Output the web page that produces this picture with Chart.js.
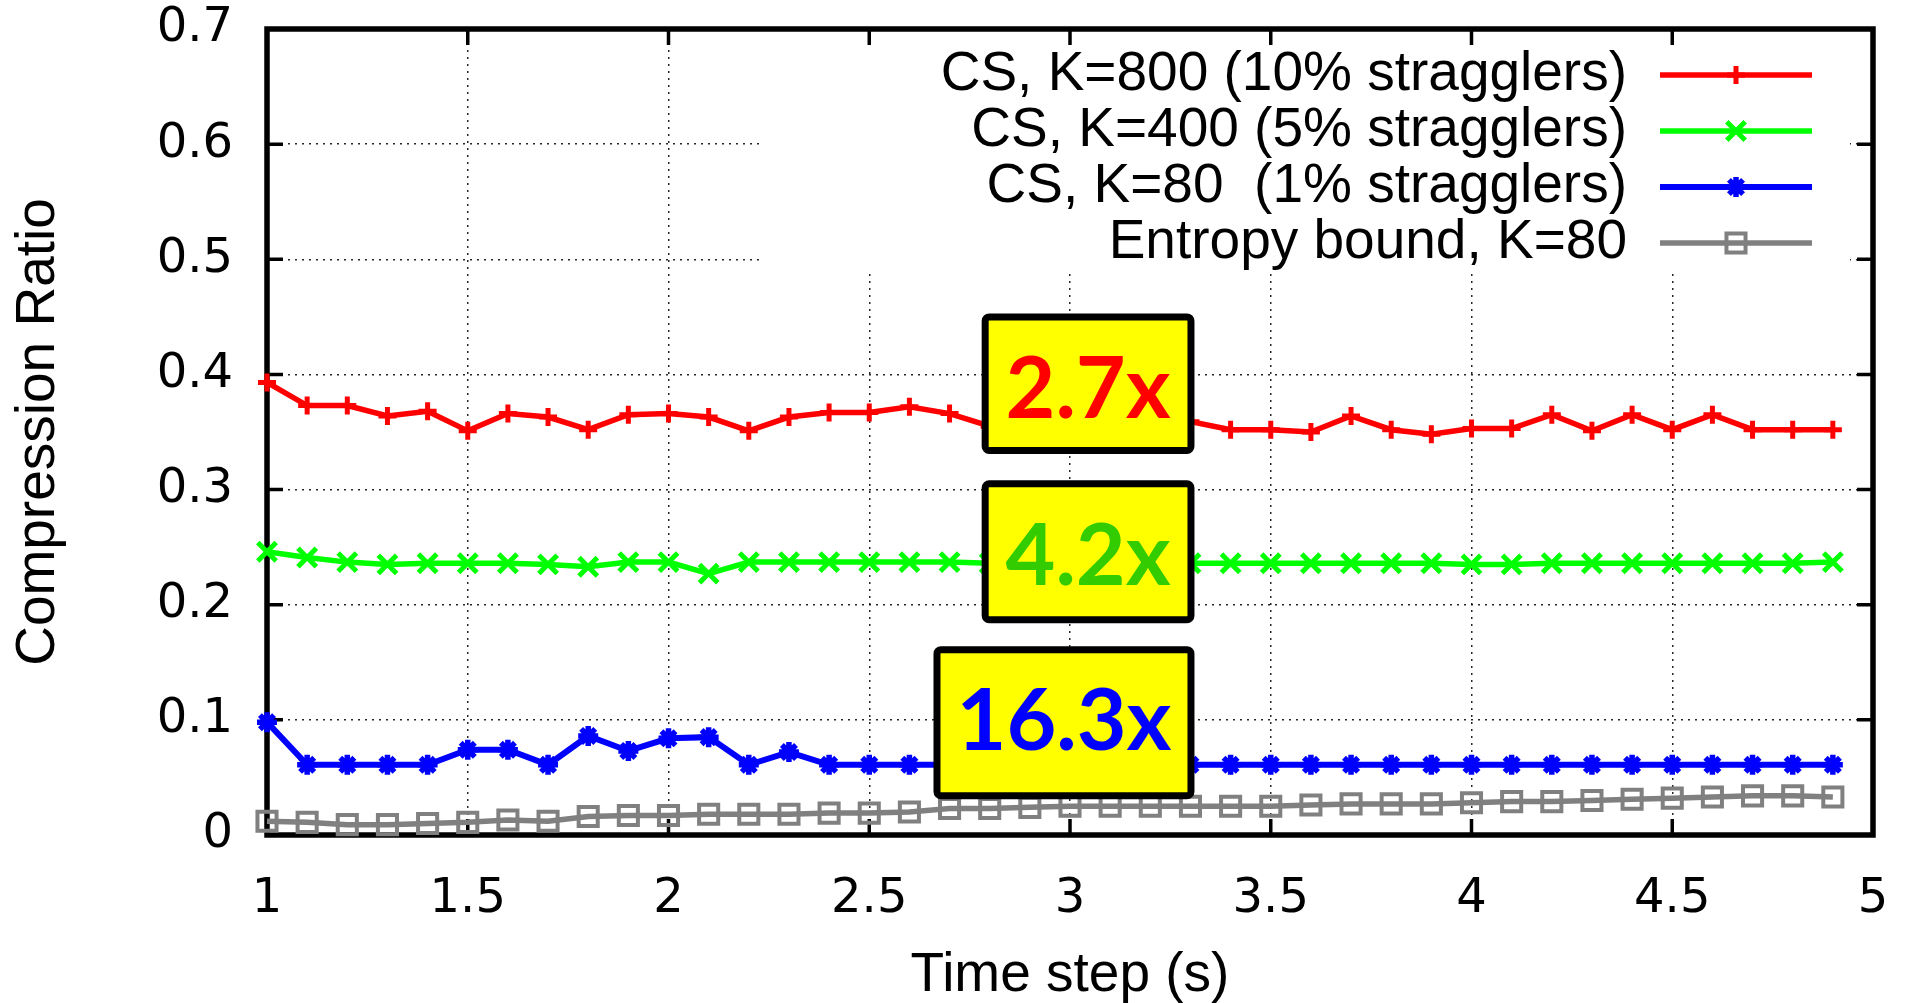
<!DOCTYPE html>
<html>
<head>
<meta charset="utf-8">
<title>Compression Ratio vs Time step</title>
<script src="https://cdn.jsdelivr.net/npm/chart.js@4.4.1/dist/chart.umd.min.js"></script>
<style>
  html, body { margin: 0; padding: 0; background: #fff; }
  #wrap { width: 1907px; height: 1003px; }
</style>
</head>
<body>
<div id="wrap"><canvas id="chart" width="1907" height="1003"></canvas></div>
<script>
// ---- data ----
const timeSteps = [1.0, 1.1, 1.2, 1.3, 1.4, 1.5, 1.6, 1.7, 1.8, 1.9,
                   2.0, 2.1, 2.2, 2.3, 2.4, 2.5, 2.6, 2.7, 2.8, 2.9,
                   3.0, 3.1, 3.2, 3.3, 3.4, 3.5, 3.6, 3.7, 3.8, 3.9,
                   4.0, 4.1, 4.2, 4.3, 4.4, 4.5, 4.6, 4.7, 4.8, 4.9];

const cs800 = [0.393, 0.373, 0.373, 0.364, 0.368, 0.351, 0.366, 0.363, 0.352, 0.365,
               0.366, 0.363, 0.351, 0.363, 0.367, 0.367, 0.372, 0.366, 0.355, 0.360,
               0.358, 0.362, 0.356, 0.359, 0.352, 0.352, 0.350, 0.364, 0.352, 0.348,
               0.353, 0.353, 0.365, 0.351, 0.365, 0.352, 0.365, 0.352, 0.352, 0.352];

const cs400 = [0.246, 0.241, 0.237, 0.235, 0.236, 0.236, 0.236, 0.235, 0.233, 0.237,
               0.237, 0.227, 0.237, 0.237, 0.237, 0.237, 0.237, 0.237, 0.236, 0.236,
               0.236, 0.236, 0.236, 0.236, 0.236, 0.236, 0.236, 0.236, 0.236, 0.236,
               0.235, 0.235, 0.236, 0.236, 0.236, 0.236, 0.236, 0.236, 0.236, 0.237];

const cs80 = [0.098, 0.061, 0.061, 0.061, 0.061, 0.074, 0.074, 0.061, 0.086, 0.073,
              0.084, 0.085, 0.061, 0.072, 0.061, 0.061, 0.061, 0.061, 0.061, 0.061,
              0.061, 0.061, 0.061, 0.061, 0.061, 0.061, 0.061, 0.061, 0.061, 0.061,
              0.061, 0.061, 0.061, 0.061, 0.061, 0.061, 0.061, 0.061, 0.061, 0.061];

const entropy80 = [0.012, 0.011, 0.009, 0.009, 0.010, 0.011, 0.013, 0.012, 0.016, 0.017,
                   0.017, 0.018, 0.018, 0.018, 0.019, 0.019, 0.020, 0.023, 0.023, 0.024,
                   0.025, 0.025, 0.025, 0.025, 0.025, 0.025, 0.026, 0.027, 0.027, 0.027,
                   0.028, 0.029, 0.029, 0.030, 0.031, 0.032, 0.033, 0.034, 0.034, 0.033];

const seriesLabels = ['CS, K=800 (10% stragglers)', 'CS, K=400 (5% stragglers)',
                      'CS, K=80  (1% stragglers)', 'Entropy bound, K=80'];

const xTickValues = [1, 1.5, 2, 2.5, 3, 3.5, 4, 4.5, 5];
const yTickValues = [0, 0.1, 0.2, 0.3, 0.4, 0.5, 0.6, 0.7];

// callout boxes: text and the data region each box covers
const gainLabels = ['2.7x', '4.2x', '16.3x'];
const gainRanges = [[2.78, 3.31, 0.331, 0.453],
                    [2.78, 3.31, 0.184, 0.308],
                    [2.66, 3.31, 0.031, 0.164]];
const gainAnchors = [[3.045, 0.386], [3.045, 0.241], [2.985, 0.098]];
const gainColors = ['#ff0000', '#33cc00', '#0000ff'];

// ---- styling ----
const TICK_FONT = { family: 'DejaVu Sans', size: 48 };
const TEXT_FONT = 'Liberation Sans';

const toPoints = ys => timeSteps.map((x, i) => ({ x: x, y: ys[i] }));

const datasets = [
    { label: seriesLabels[0], data: toPoints(cs800), borderColor: '#ff0000', pointStyle: 'cross', pointRadius: 9, pointBorderWidth: 5, borderWidth: 5.5 },
    { label: seriesLabels[1], data: toPoints(cs400), borderColor: '#00ff00', pointStyle: 'crossRot', pointRadius: 13, pointBorderWidth: 5, borderWidth: 5.5 },
    { label: seriesLabels[2], data: toPoints(cs80), borderColor: '#0000ff', pointStyle: 'star', pointRadius: 10, pointBorderWidth: 5.5, borderWidth: 6 },
    { label: seriesLabels[3], data: toPoints(entropy80), borderColor: '#808080', pointStyle: 'rect', pointRadius: 13.5, pointBorderWidth: 4, borderWidth: 5.5 }
].map(ds => Object.assign({
    pointBorderColor: ds.borderColor,
    pointBackgroundColor: 'rgba(0,0,0,0)',
    pointHoverRadius: ds.pointRadius,
    tension: 0,
    fill: false,
    clip: false
}, ds));

// plot frame and key layout (pixels)
const PLOT = { top: 29, right: 34 };
const KEY = { left: 760, right: 1850, bottom: 274, textRight: 1627, lineFrom: 1660, lineTo: 1812, rows: [75, 131, 187, 243] };

// gnuplot look: white key box, solid frame with inward ticks on all sides
const framePlugin = {
    id: 'gnuplotFrame',
    beforeDatasetsDraw(chart) {
        const { ctx, chartArea: a, scales } = chart;
        ctx.save();
        ctx.fillStyle = '#fff';
        ctx.fillRect(KEY.left, a.top, KEY.right - KEY.left, KEY.bottom - a.top);

        ctx.strokeStyle = '#000';
        ctx.lineWidth = 3.5;
        const tl = 16;
        ctx.beginPath();
        xTickValues.forEach(v => {
            const px = scales.x.getPixelForValue(v);
            ctx.moveTo(px, a.bottom); ctx.lineTo(px, a.bottom - tl);
            ctx.moveTo(px, a.top); ctx.lineTo(px, a.top + tl);
        });
        yTickValues.forEach(v => {
            const py = scales.y.getPixelForValue(v);
            ctx.moveTo(a.left, py); ctx.lineTo(a.left + tl, py);
            ctx.moveTo(a.right, py); ctx.lineTo(a.right - tl, py);
        });
        ctx.stroke();

        ctx.lineWidth = 5.5;
        ctx.strokeRect(a.left, a.top, a.right - a.left, a.bottom - a.top);
        ctx.restore();
    },
    afterDatasetsDraw(chart) {
        const { ctx, scales } = chart;
        ctx.save();

        // callout boxes
        gainLabels.forEach((txt, i) => {
            const [x0, x1, y0, y1] = gainRanges[i];
            const bw = 7;
            const l = scales.x.getPixelForValue(x0) + bw / 2;
            const r = scales.x.getPixelForValue(x1) - bw / 2;
            const t = scales.y.getPixelForValue(y1) + bw / 2;
            const b = scales.y.getPixelForValue(y0) - bw / 2;
            ctx.beginPath();
            ctx.roundRect(l, t, r - l, b - t, 4);
            ctx.fillStyle = '#ffff00';
            ctx.fill();
            ctx.lineWidth = bw;
            ctx.strokeStyle = '#000';
            ctx.stroke();

            ctx.fillStyle = gainColors[i];
            ctx.font = 'bold 86px Lato';
            ctx.textAlign = 'center';
            ctx.textBaseline = 'middle';
            ctx.fillText(txt, scales.x.getPixelForValue(gainAnchors[i][0]), scales.y.getPixelForValue(gainAnchors[i][1]));
        });

        // key entries
        chart.data.datasets.forEach((ds, i) => {
            const y = KEY.rows[i];
            ctx.fillStyle = '#000';
            ctx.font = '55px "' + TEXT_FONT + '"';
            ctx.textAlign = 'right';
            ctx.textBaseline = 'middle';
            ctx.fillText(ds.label, KEY.textRight, y);

            ctx.strokeStyle = ds.borderColor;
            ctx.lineWidth = ds.borderWidth;
            ctx.beginPath();
            ctx.moveTo(KEY.lineFrom, y);
            ctx.lineTo(KEY.lineTo, y);
            ctx.stroke();

            ctx.lineWidth = ds.pointBorderWidth;
            ctx.fillStyle = ds.pointBackgroundColor;
            Chart.helpers.drawPoint(ctx, {
                pointStyle: ds.pointStyle, radius: ds.pointRadius, rotation: 0, borderWidth: ds.pointBorderWidth
            }, (KEY.lineFrom + KEY.lineTo) / 2, y);
        });
        ctx.restore();
    }
};

const gridStyle = { color: 'rgba(0,0,0,0.85)', lineWidth: 1.5, drawTicks: false };
const borderStyle = { display: false, dash: [2, 5] };

new Chart(document.getElementById('chart'), {
    type: 'line',
    data: { datasets: datasets },
    options: {
        responsive: false,
        animation: false,
        devicePixelRatio: 1,
        layout: { padding: 0 },
        plugins: { legend: { display: false }, tooltip: { enabled: false } },
        scales: {
            x: {
                type: 'linear', min: 1, max: 5,
                afterBuildTicks: s => { s.ticks = xTickValues.map(v => ({ value: v })); },
                // fixed box sizes so the frame lands where the original one is
                afterFit: s => { s.height = 168; s.paddingLeft = 0; s.paddingRight = PLOT.right; },
                ticks: { font: TICK_FONT, color: '#000', padding: 36, maxRotation: 0, autoSkip: false, callback: v => String(v) },
                grid: gridStyle,
                border: borderStyle,
                title: { display: true, text: 'Time step (s)', color: '#000', font: { family: TEXT_FONT, size: 55, lineHeight: 1 }, padding: { top: 2.5, bottom: 0 } }
            },
            y: {
                type: 'linear', min: 0, max: 0.7,
                afterBuildTicks: s => { s.ticks = yTickValues.map(v => ({ value: v })); },
                afterFit: s => { s.width = 267; s.paddingTop = PLOT.top; s.paddingBottom = 0; },
                ticks: { font: TICK_FONT, color: '#000', padding: 34, autoSkip: false, callback: v => String(v) },
                grid: gridStyle,
                border: borderStyle,
                title: { display: true, text: 'Compression Ratio', color: '#000', font: { family: TEXT_FONT, size: 55, lineHeight: 1 }, padding: { top: 11.5, bottom: 0 } }
            }
        }
    },
    plugins: [framePlugin]
});
</script>
</body>
</html>
